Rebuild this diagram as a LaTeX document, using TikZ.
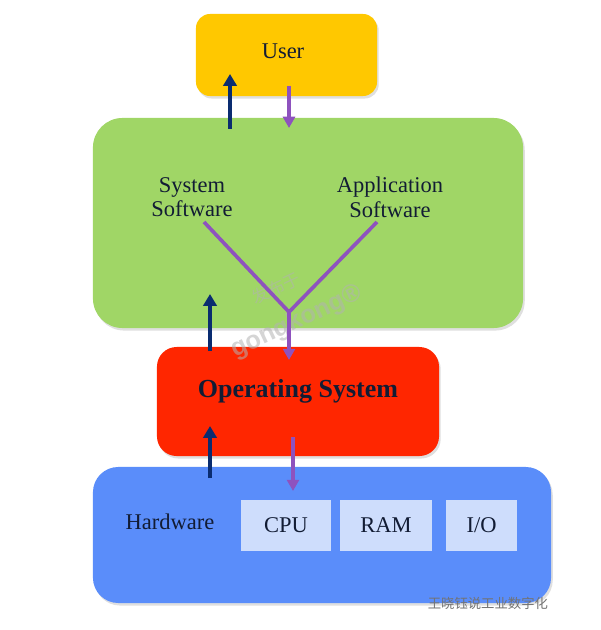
\documentclass[tikz,border=0pt]{standalone}
\usepackage{fontspec}
\setmainfont{Liberation Serif}
\newfontfamily\cjk{Noto Sans CJK SC}
\newfontfamily\wmfont{Liberation Sans}
\usetikzlibrary{arrows.meta,shadows}

\definecolor{userfill}{RGB}{255,200,0}
\definecolor{swfill}{RGB}{160,214,102}
\definecolor{osfill}{RGB}{255,38,0}
\definecolor{hwfill}{RGB}{90,141,250}
\definecolor{partfill}{RGB}{206,221,252}
\definecolor{navy}{RGB}{10,44,112}
\definecolor{violet}{RGB}{142,82,190}
\definecolor{ink}{RGB}{18,28,52}

\begin{document}
\begin{tikzpicture}[
    x=0.025cm, y=-0.025cm,
    box/.style={rounded corners=#1, inner sep=0pt,
        drop shadow={opacity=0.25, shadow xshift=1.2pt, shadow yshift=-1.8pt}},
    part/.style={fill=partfill, inner sep=0pt, minimum height=1.275cm},
    label/.style={text=ink, font=\fontsize{16}{17.5}\selectfont, align=center},
    up/.style={-{Triangle[width=9.5pt,length=8.5pt]}, navy, line width=3pt},
    down/.style={-{Triangle[width=8.5pt,length=8pt]}, violet, line width=2.6pt},
    wire/.style={violet, line width=2.6pt},
    wmark/.style={text=black!30, opacity=0.55, rotate=25, inner sep=0pt}
]
    \useasboundingbox (0,0) rectangle (600,630);

    % boxes
    \node[box=10pt, fill=userfill, minimum width=4.525cm, minimum height=2.05cm] (user) at (286.5,55) {};
    \node[box=21pt, fill=swfill, minimum width=10.75cm, minimum height=5.25cm] (sw) at (308,223) {};
    \node[box=14pt, fill=osfill, minimum width=7.05cm, minimum height=2.725cm] (os) at (298,401.5) {};
    \node[box=18pt, fill=hwfill, minimum width=11.45cm, minimum height=3.4cm] (hw) at (322,535) {};

    % labels
    \node[label] (usertxt) at (283,51) {User};
    \node[label] (sys) at (192,197) {System\\Software};
    \node[label] (app) at (390,197) {Application\\Software};
    \node[label, font=\fontsize{18.5}{20}\selectfont\bfseries] (ostxt) at (298,391) {Operating System};
    \node[label] (hwtxt) at (170,522) {Hardware};

    \node[part, minimum width=2.25cm] (cpu) at (286,525.5) {};
    \node[part, minimum width=2.3cm] (ram) at (386,525.5) {};
    \node[part, minimum width=1.775cm] (io) at (481.5,525.5) {};
    \node[label] at (cpu) {CPU};
    \node[label] at (ram) {RAM};
    \node[label] at (io) {I/O};

    % watermarks
    \node[wmark, font=\cjk\fontsize{12}{12}\selectfont] (wm1) at (276,288) {发布于};
    \node[wmark, font=\wmfont\bfseries\fontsize{18}{18}\selectfont] (wm2) at (297,322) {gongkong®};
    \node[text=black!55, anchor=east, font=\cjk\fontsize{9.5}{10}\selectfont] (wm3) at (553,603) {王晓钰说工业数字化};

    % connector ends
    \coordinate (a1) at (230,129);  \coordinate (a1e) at (230,74);
    \coordinate (b1) at (289,86);   \coordinate (b1e) at (289,128);
    \coordinate (a2) at (210,351);  \coordinate (a2e) at (210,294);
    \coordinate (s1) at (204,222);  \coordinate (s2) at (377,222);
    \coordinate (join) at (289,312); \coordinate (b2e) at (289,360);
    \coordinate (a3) at (210,478);  \coordinate (a3e) at (210,426);
    \coordinate (b3) at (293,437);  \coordinate (b3e) at (293,491);

    % arrows
    \draw[up] (a1) -- (a1e);
    \draw[down] (b1) -- (b1e);
    \draw[up] (a2) -- (a2e);
    \draw[wire] (s1) -- (join);
    \draw[wire] (s2) -- (join);
    \draw[down] (join) -- (b2e);
    \draw[up] (a3) -- (a3e);
    \draw[down] (b3) -- (b3e);
\end{tikzpicture}
\end{document}
